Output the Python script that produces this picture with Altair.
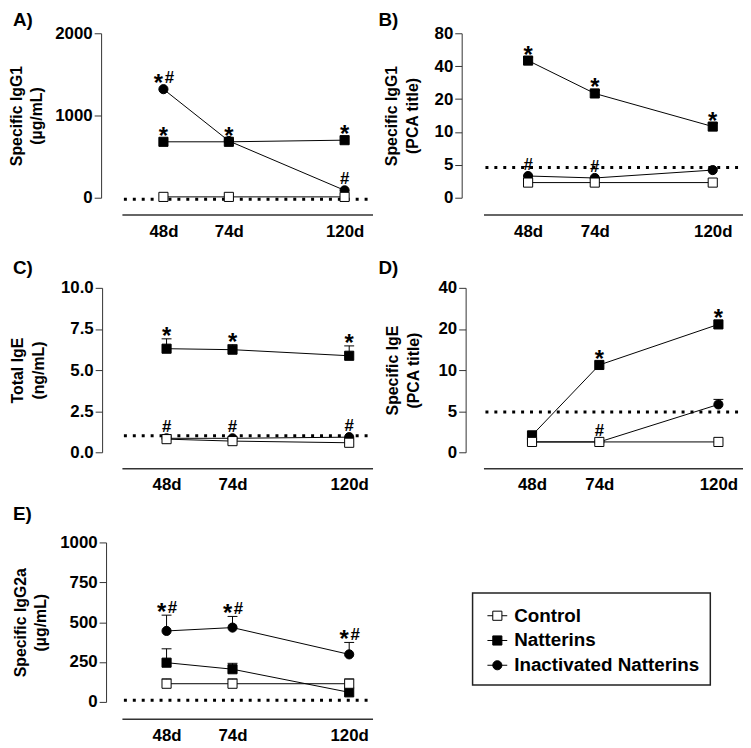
import altair as alt
import pandas as pd

FONT = "Liberation Sans"

DAYS = [48, 74, 120]
DAY_LABELS = ["48d", "74d", "120d"]
SERIES = ["Control", "Natterins", "Inactivated Natterins"]
SHAPES = ["square", "square", "circle"]
FILLS = ["white", "black", "black"]

# ---- Panel A: Specific IgG1 (ug/mL)
A_CONTROL = [10, 10, 10]
A_NATTERINS = [680, 680, 700]
A_INACTIVATED = [1320, 690, 90]
A_CONTROL_ERR = [0, 0, 0]
A_NATTERINS_ERR = [0, 0, 0]
A_INACTIVATED_ERR = [0, 0, 0]
A_THRESHOLD = -20
A_TICKS = [0, 1000, 2000]
A_TICK_LABELS = ["0", "1000", "2000"]
A_ANNOT = [(48, "Inactivated Natterins", "*#", False), (48, "Natterins", "*", False),
           (74, "Natterins", "*", False), (120, "Natterins", "*", False),
           (120, "Inactivated Natterins", "#", False)]

# ---- Panel B: Specific IgG1 (PCA title), axis 0,5,10,20,40,80
B_CONTROL = [2.3, 2.3, 2.3]
B_NATTERINS = [45, 22.5, 11.2]
B_INACTIVATED = [3.3, 3.0, 4.2]
B_CONTROL_ERR = [0, 0, 0]
B_NATTERINS_ERR = [3, 1.5, 0.8]
B_INACTIVATED_ERR = [0, 0, 0]
B_THRESHOLD = 4.6
B_TICK_LABELS = ["0", "5", "10", "20", "40", "80"]
B_ANNOT = [(48, "Natterins", "*", False), (74, "Natterins", "*", False),
           (120, "Natterins", "*", False), (48, "Inactivated Natterins", "#", False),
           (74, "Inactivated Natterins", "#", False)]

# ---- Panel C: Total IgE (ng/mL)
C_CONTROL = [0.8, 0.68, 0.58]
C_NATTERINS = [6.3, 6.24, 5.87]
C_INACTIVATED = [0.85, 0.85, 0.92]
C_CONTROL_ERR = [0, 0, 0]
C_NATTERINS_ERR = [0.6, 0.3, 0.6]
C_INACTIVATED_ERR = [0, 0, 0]
C_THRESHOLD = 1.0
C_TICKS = [0, 2.5, 5, 7.5, 10]
C_TICK_LABELS = ["0.0", "2.5", "5.0", "7.5", "10.0"]
C_ANNOT = [(48, "Natterins", "*", True), (74, "Natterins", "*", True),
           (120, "Natterins", "*", True), (48, "Inactivated Natterins", "#", False),
           (74, "Inactivated Natterins", "#", False), (120, "Inactivated Natterins", "#", False)]

# ---- Panel D: Specific IgE (PCA title), axis 0,5,10,20,40
D_CONTROL = [1.26, 1.26, 1.26]
D_NATTERINS = [2.06, 10.9, 21.6]
D_INACTIVATED = [1.26, 1.26, 5.6]
D_CONTROL_ERR = [0, 0, 0]
D_NATTERINS_ERR = [0, 0, 0]
D_INACTIVATED_ERR = [0, 0, 0.5]
D_THRESHOLD = 4.9
D_TICK_LABELS = ["0", "5", "10", "20", "40"]
D_ANNOT = [(74, "Natterins", "*", False), (120, "Natterins", "*", False),
           (74, "Inactivated Natterins", "#", False)]

# ---- Panel E: Specific IgG2a (ug/mL)
E_CONTROL = [114, 114, 114]
E_NATTERINS = [246, 205, 60]
E_INACTIVATED = [445, 466, 298]
E_CONTROL_ERR = [30, 30, 30]
E_NATTERINS_ERR = [87, 37, 0]
E_INACTIVATED_ERR = [99, 70, 75]
E_THRESHOLD = 10
E_TICKS = [0, 250, 500, 750, 1000]
E_TICK_LABELS = ["0", "250", "500", "750", "1000"]
E_ANNOT = [(48, "Inactivated Natterins", "*#", True), (74, "Inactivated Natterins", "*#", True),
           (120, "Inactivated Natterins", "*#", True)]

LINEAR = "datum.{f}"
LOGLIKE = "datum.{f} <= 5 ? datum.{f} / 5 : 1 + log(datum.{f} / 5) / LN2"


def build_df(control, natt, inact, cerr, nerr, ierr):
    rows = []
    for name, vals, errs in [(SERIES[2], inact, ierr), (SERIES[1], natt, nerr), (SERIES[0], control, cerr)]:
        for d, v, e in zip(DAYS, vals, errs):
            rows.append({"day": d, "series": name, "v": v, "err": e, "ev": v + e})
    return pd.DataFrame(rows)


def label_expr(vals, labels):
    arr = "[" + ",".join("'" + s + "'" for s in labels) + "]"
    idx = "[" + ",".join(str(v) for v in vals) + "]"
    return arr + "[indexof(" + idx + ", datum.value)]"


shape_scale = alt.Scale(domain=SERIES, range=SHAPES)
fill_scale = alt.Scale(domain=SERIES, range=FILLS)


def panel(p):
    df = p["df"]
    w, h = p["w"], p["h"]
    expr = p["expr"]
    ysc = alt.Scale(domain=p["ydom"], nice=False, zero=False)
    xsc = alt.Scale(domain=p["xdom"], nice=False, zero=False)
    yaxis = alt.Axis(values=p["yvals"], labelExpr=label_expr(p["yvals"], p["ylabels"]),
                     title=p["title"], grid=False, tickSize=7, tickColor="#333", domainColor="#333",
                     offset=p["yoff"], labelPadding=2, titlePadding=p["tpad"], labelFontSize=17,
                     labelFontWeight="bold", titleFontSize=16, titleFontWeight="bold",
                     titleLineHeight=21, labelFlush=False, labelOverlap=False,
                     labelColor="black", titleColor="black", labelFont=FONT, titleFont=FONT)
    xaxis = alt.Axis(values=DAYS, labelExpr=label_expr(DAYS, DAY_LABELS), ticks=False, tickSize=0,
                     grid=False, title=None, offset=p["xoff"], domainColor="#333", domainWidth=1.5,
                     labelPadding=9, labelFontSize=17, labelFontWeight="bold", labelFlush=False,
                     labelOverlap=False, labelColor="black", labelFont=FONT)
    X = alt.X("day:Q", scale=xsc, axis=xaxis)

    def Y(f):
        return alt.Y(f + ":Q", scale=ysc, axis=yaxis)

    base = alt.Chart(df).transform_calculate(pos=expr.format(f="v"), epos=expr.format(f="ev"))
    layers = []
    thr = (alt.Chart(pd.DataFrame({"v": [p["thr"]]}))
           .transform_calculate(pos=expr.format(f="v"))
           .mark_rule(color="black", strokeWidth=3, strokeDash=[3, 6])
           .encode(x=alt.value(2), x2=alt.value(w - 2), y=Y("pos")))
    layers.append(thr)
    layers.append(base.mark_line(color="black", strokeWidth=1).encode(x=X, y=Y("pos"), detail="series:N"))
    edf = df[df["err"] > 0]
    if len(edf):
        eb = alt.Chart(edf).transform_calculate(pos=expr.format(f="v"), epos=expr.format(f="ev"))
        layers.append(eb.mark_rule(color="black", strokeWidth=1).encode(x=X, y=Y("pos"), y2="epos:Q"))
        layers.append(eb.mark_tick(orient="horizontal", color="black", thickness=1, size=10, opacity=1)
                      .encode(x=X, y=Y("epos")))
    layers.append(base.mark_point(filled=True, stroke="black", strokeWidth=1, size=85, opacity=1)
                  .encode(x=X, y=Y("pos"),
                          shape=alt.Shape("series:N", scale=shape_scale, legend=None),
                          fill=alt.Fill("series:N", scale=fill_scale, legend=None)))
    # annotations
    arows = []
    for d, s, t, on_err in p["annot"]:
        r = df[(df["day"] == d) & (df["series"] == s)].iloc[0]
        a = r["ev"] if on_err else r["v"]
        arows.append({"day": d, "series": s, "a": a, "t": t, "on_err": on_err})
    adf = pd.DataFrame(arows)
    for glyph in ["*", "#"]:
        for combo in [False, True]:
            for on_err in [False, True]:
                sub = adf[(adf["on_err"] == on_err) &
                          (adf["t"].apply(lambda t: (glyph in t) and ((len(t) > 1) == combo)))]
                if not len(sub):
                    continue
                if glyph == "*":
                    fs, dy = 24, (5 if on_err else 2)
                    dx = -5 if combo else 0
                else:
                    fs, dy = 17, (-2 if on_err else -6)
                    dx = 6 if combo else 0
                sub = sub.assign(g=glyph)
                layers.append(alt.Chart(sub).transform_calculate(pos=expr.format(f="a"))
                              .mark_text(font=FONT, fontSize=fs, fontWeight="bold", color="black",
                                         align="center", baseline="alphabetic", dx=dx, dy=dy)
                              .encode(x=X, y=Y("pos"), text="g:N"))
    layers.append(alt.Chart(pd.DataFrame({"label": [p["label"]]}))
                  .mark_text(font=FONT, fontSize=19, fontWeight="bold", color="black",
                             align="left", baseline="alphabetic")
                  .encode(x=alt.value(p["lx"]), y=alt.value(p["ly"]), text="label:N"))
    return alt.layer(*layers).properties(width=w, height=h)


PANELS = [
    dict(label="A)", df=build_df(A_CONTROL, A_NATTERINS, A_INACTIVATED, A_CONTROL_ERR, A_NATTERINS_ERR, A_INACTIVATED_ERR),
         thr=A_THRESHOLD, annot=A_ANNOT, expr=LINEAR, ydom=[0, 2000], yvals=A_TICKS, ylabels=A_TICK_LABELS,
         title=["Specific IgG1", "(µg/mL)"], w=253, h=166, xdom=[31.5, 131.1], yoff=21, xoff=17, tpad=10,
         lx=-110, ly=-7),
    dict(label="B)", df=build_df(B_CONTROL, B_NATTERINS, B_INACTIVATED, B_CONTROL_ERR, B_NATTERINS_ERR, B_INACTIVATED_ERR),
         thr=B_THRESHOLD, annot=B_ANNOT, expr=LOGLIKE, ydom=[0, 5], yvals=list(range(len(B_TICK_LABELS))),
         ylabels=B_TICK_LABELS, title=["Specific IgG1", "(PCA title)"], w=262, h=166, xdom=[30.6, 131.8],
         yoff=22, xoff=17, tpad=14, lx=-106, ly=-7),
    dict(label="C)", df=build_df(C_CONTROL, C_NATTERINS, C_INACTIVATED, C_CONTROL_ERR, C_NATTERINS_ERR, C_INACTIVATED_ERR),
         thr=C_THRESHOLD, annot=C_ANNOT, expr=LINEAR, ydom=[0, 10], yvals=C_TICKS, ylabels=C_TICK_LABELS,
         title=["Total IgE", "(ng/mL)"], w=253, h=166, xdom=[30.4, 129.2], yoff=20, xoff=16, tpad=14,
         lx=-110, ly=-14),
    dict(label="D)", df=build_df(D_CONTROL, D_NATTERINS, D_INACTIVATED, D_CONTROL_ERR, D_NATTERINS_ERR, D_INACTIVATED_ERR),
         thr=D_THRESHOLD, annot=D_ANNOT, expr=LOGLIKE, ydom=[0, 4], yvals=list(range(len(D_TICK_LABELS))),
         ylabels=D_TICK_LABELS, title=["Specific IgE", "(PCA title)"], w=262, h=166, xdom=[29.25, 129.5],
         yoff=18, xoff=16, tpad=17, lx=-106, ly=-14),
    dict(label="E)", df=build_df(E_CONTROL, E_NATTERINS, E_INACTIVATED, E_CONTROL_ERR, E_NATTERINS_ERR, E_INACTIVATED_ERR),
         thr=E_THRESHOLD, annot=E_ANNOT, expr=LINEAR, ydom=[0, 1000], yvals=E_TICKS, ylabels=E_TICK_LABELS,
         title=["Specific IgG2a", "(µg/mL)"], w=253, h=161, xdom=[30.4, 129.2], yoff=16, xoff=17, tpad=11,
         lx=-110, ly=-23),
]

charts = [panel(p) for p in PANELS]

# ---- legend box
LEGEND_ORDER = [0, 1, 2]
leg_df = pd.DataFrame({"series": SERIES, "idx": LEGEND_ORDER})
legy = alt.Y("idx:Q", scale=alt.Scale(domain=[0, 2], range=[74, 124], nice=False, zero=False), axis=None)
box = (alt.Chart(pd.DataFrame({"b": [0]}))
       .mark_rect(fill="white", stroke="#222", strokeWidth=1.5)
       .encode(x=alt.value(-11), x2=alt.value(229), y=alt.value(51), y2=alt.value(144)))
legline = alt.Chart(leg_df).mark_rule(color="black", strokeWidth=1).encode(
    x=alt.value(4), x2=alt.value(24), y=legy)
legpts = alt.Chart(leg_df).mark_point(filled=True, stroke="black", strokeWidth=1, size=85, opacity=1).encode(
    x=alt.value(14), y=legy,
    shape=alt.Shape("series:N", scale=shape_scale, legend=None),
    fill=alt.Fill("series:N", scale=fill_scale, legend=None))
legtxt = alt.Chart(leg_df).mark_text(font=FONT, fontSize=19, fontWeight="bold", color="black",
                                     align="left", baseline="middle").encode(
    x=alt.value(31), y=legy, text="series:N")
legend = alt.layer(box, legline, legpts, legtxt).properties(width=262, height=161)

chart = (alt.concat(*charts, legend, columns=2, spacing={"row": 91, "column": 112}, bounds="flush")
         .properties(padding={"left": 0, "top": 0, "right": 0, "bottom": 0}, background="white")
         .configure(font=FONT)
         .configure_view(stroke="transparent", strokeWidth=0))

chart.save("out.html", embed_options={"renderer": "svg", "actions": False})
